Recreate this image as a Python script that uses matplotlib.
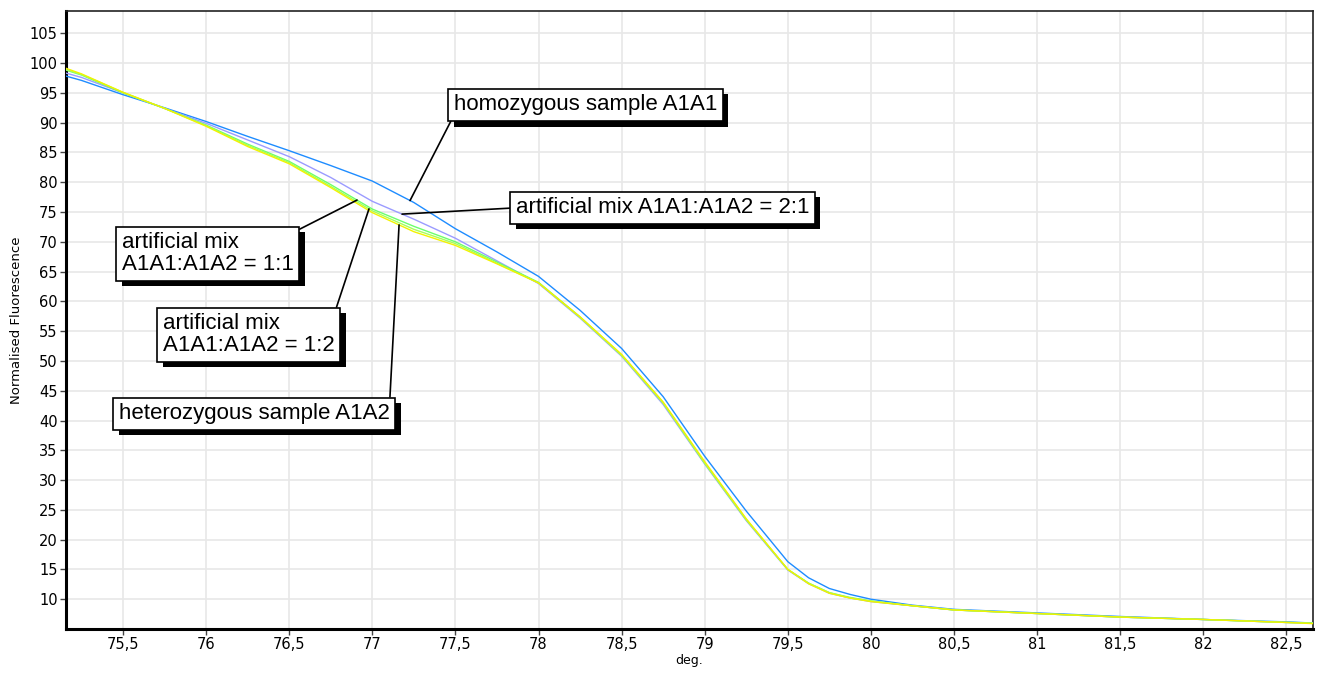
import numpy as np
import matplotlib
matplotlib.use('Agg')
import matplotlib.pyplot as plt
import matplotlib.patheffects as pe

# melt curve data (temperature in deg., normalised fluorescence)
temp = [75.16, 75.25, 75.5, 75.75, 76.0, 76.25, 76.5, 76.75, 77.0, 77.25, 77.5, 77.75,
        78.0, 78.25, 78.5, 78.75, 79.0, 79.25, 79.5, 79.625, 79.75, 79.875, 80.0,
        80.25, 80.5, 81.0, 81.5, 82.0, 82.5, 82.66]

homozygous_a1a1 = [97.8, 97.1, 94.7, 92.5, 90.2, 87.7, 85.3, 82.8, 80.2, 76.6, 72.2, 68.3,
                   64.2, 58.5, 52.1, 44.0, 34.0, 24.8, 16.3, 13.6, 11.8, 10.8, 10.0,
                   9.0, 8.3, 7.7, 7.1, 6.6, 6.2, 6.0]
mix_2_1 = [98.3, 97.6, 95.0, 92.4, 89.9, 87.1, 84.3, 80.8, 76.8, 73.8, 70.6, 66.8,
           63.0, 57.2, 50.8, 42.7, 32.7, 23.2, 14.9, 12.6, 11.0, 10.2, 9.6,
           8.9, 8.2, 7.6, 7.0, 6.6, 6.1, 6.0]
mix_1_1 = [98.8, 98.0, 95.0, 92.4, 89.6, 86.4, 83.5, 79.6, 75.5, 72.6, 70.0, 66.6,
           63.2, 57.4, 51.0, 43.0, 32.9, 23.4, 15.0, 12.7, 11.1, 10.3, 9.7,
           8.9, 8.2, 7.6, 7.0, 6.6, 6.1, 6.0]
mix_1_2 = [98.9, 98.1, 95.1, 92.4, 89.5, 86.2, 83.3, 79.3, 75.2, 72.1, 69.7, 66.4,
           63.1, 57.3, 50.9, 42.9, 32.8, 23.3, 15.0, 12.7, 11.1, 10.2, 9.7,
           8.9, 8.2, 7.6, 7.0, 6.6, 6.1, 6.0]
heterozygous_a1a2 = [99.1, 98.2, 95.1, 92.4, 89.4, 86.0, 83.1, 79.1, 74.9, 71.7, 69.4, 66.3,
                     63.1, 57.4, 51.1, 43.1, 33.1, 23.5, 15.0, 12.6, 11.0, 10.2, 9.6,
                     8.9, 8.2, 7.6, 7.0, 6.6, 6.1, 5.9]

x_ticks = [75.5, 76, 76.5, 77, 77.5, 78, 78.5, 79, 79.5, 80, 80.5, 81, 81.5, 82, 82.5]
x_ticklabels = ['75,5', '76', '76,5', '77', '77,5', '78', '78,5', '79', '79,5',
                '80', '80,5', '81', '81,5', '82', '82,5']
y_ticks = list(range(10, 110, 5))

series = [
    ('homozygous sample A1A1', homozygous_a1a1, '#1e8cff'),
    ('artificial mix A1A1:A1A2 = 2:1', mix_2_1, '#9b9bff'),
    ('artificial mix\nA1A1:A1A2 = 1:1', mix_1_1, '#6cff6c'),
    ('artificial mix\nA1A1:A1A2 = 1:2', mix_1_2, '#a6ff5a'),
    ('heterozygous sample A1A2', heterozygous_a1a2, '#f2f200'),
]

fig = plt.figure(figsize=(13.18, 6.75), dpi=100)
ax = fig.add_axes([66/1318, 1 - 629/675, (1313 - 66)/1318, (629 - 11)/675])

for name, vals, col in series:
    ax.plot(temp, vals, color=col, lw=1.0, zorder=3)

ax.set_xlim(75.157, 82.66)
ax.set_ylim(5, 108.75)
ax.set_xticks(x_ticks)
ax.set_xticklabels(x_ticklabels)
ax.set_yticks(y_ticks)
ax.tick_params(labelsize=10.5, length=4, width=1, color='#444444', pad=2)
ax.grid(True, color='#e8e8e8', lw=1.2, zorder=0)
ax.set_axisbelow(True)

ax.spines['left'].set_linewidth(2.2)
ax.spines['bottom'].set_linewidth(2.2)
ax.spines['top'].set_linewidth(1.2)
ax.spines['right'].set_linewidth(1.2)
ax.spines['top'].set_color('#222222')
ax.spines['right'].set_color('#222222')

ax.set_ylabel('Normalised Fluorescence', fontsize=9.5, labelpad=5)
ax.set_xlabel('deg.', fontsize=9, labelpad=1)

# labels: (series index, target temp on curve, text pos in axes fraction, attach point on box)
labels = [
    (0, 77.227, (0.3110, 0.8650), (0, 0)),
    (1, 77.179, (0.3607, 0.6985), (0, 0.5)),
    (2, 76.908, (0.0447, 0.6420), (1, 1)),
    (3, 76.980, (0.0776, 0.5110), (1, 1)),
    (4, 77.161, (0.0423, 0.3655), (1, 1)),
]
for idx, tx, pos, rel in labels:
    name, vals, col = series[idx]
    ty = np.interp(tx, temp, vals)
    ann = ax.annotate(name, xy=(tx, ty), xycoords='data',
                      xytext=pos, textcoords='axes fraction',
                      ha='left', va='top', fontsize=16, linespacing=1.05,
                      family='Liberation Sans', color='black', zorder=5,
                      bbox=dict(boxstyle='square,pad=0.25', fc='white', ec='black', lw=1.2),
                      arrowprops=dict(arrowstyle='-', color='black', lw=1.2,
                                      shrinkA=0, shrinkB=0, relpos=rel))
    ann.get_bbox_patch().set_path_effects([
        pe.SimplePatchShadow(offset=(4, -4), shadow_rgbFace='black', alpha=1.0),
        pe.Normal()])

fig.savefig('out.png', dpi=100, facecolor='white')
